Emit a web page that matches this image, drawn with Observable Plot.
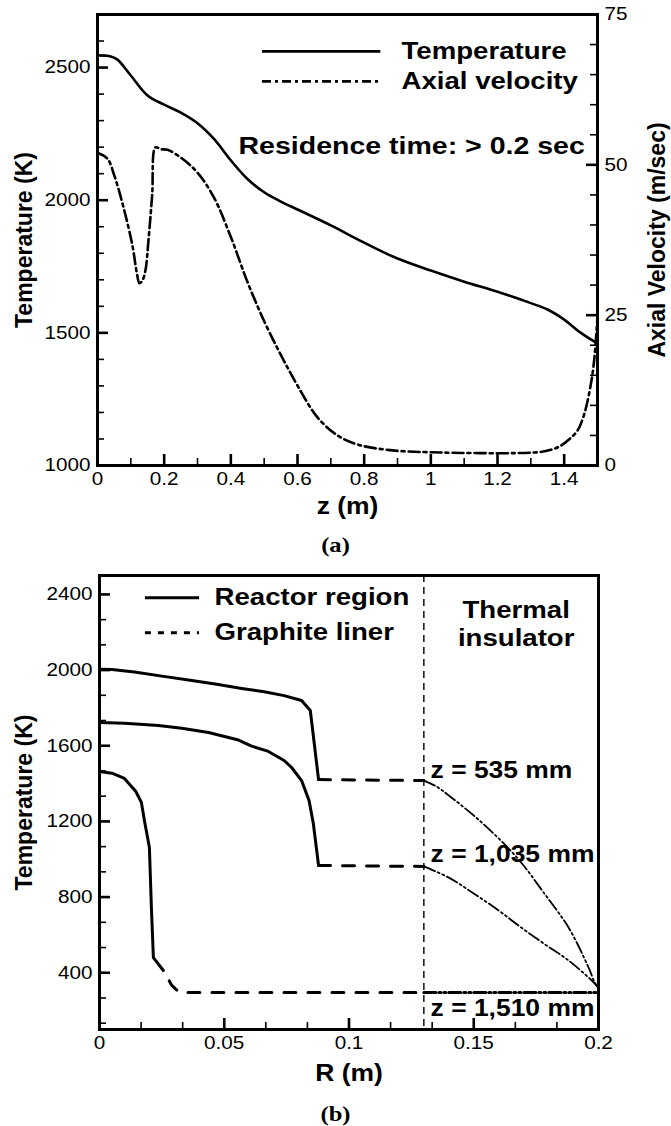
<!DOCTYPE html>
<html><head><meta charset="utf-8">
<script src="https://cdn.jsdelivr.net/npm/d3@7"></script>
<script src="https://cdn.jsdelivr.net/npm/@observablehq/plot@0.6"></script>
<style>
body{margin:0;background:#fff;}
#wrap{position:relative;width:671px;height:1126px;overflow:hidden;background:#fff;}
#wrap svg{position:absolute;left:0;}
.cap{position:absolute;left:0;width:671px;text-align:center;font-family:"Liberation Serif","Times New Roman",serif;font-weight:bold;font-size:21px;line-height:24px;transform:scaleX(1.17);}
</style></head><body><div id="wrap"></div>
<script>
// ---------- panel (a) data ----------
const zTemp = [0, 0.04, 0.06, 0.1, 0.15, 0.2, 0.25, 0.3, 0.35, 0.4, 0.45, 0.5, 0.55, 0.6, 0.7, 0.8, 0.9, 1.0, 1.1, 1.2, 1.3, 1.35, 1.4, 1.45, 1.5];
const tempK = [2546, 2542, 2530, 2470, 2395, 2360, 2330, 2290, 2230, 2150, 2080, 2030, 1995, 1965, 1905, 1840, 1780, 1735, 1693, 1655, 1612, 1588, 1550, 1500, 1460];
const zVel = [0, 0.03, 0.05, 0.08, 0.105, 0.118, 0.126, 0.135, 0.144, 0.153, 0.164, 0.174, 0.19, 0.21, 0.25, 0.3, 0.35, 0.4, 0.45, 0.5, 0.55, 0.6, 0.66, 0.72, 0.78, 0.87, 1.0, 1.32, 1.36, 1.39, 1.42, 1.44, 1.46, 1.48, 1.49, 1.5];
const velMs = [52.0, 51.0, 48.3, 42.5, 36.5, 32.0, 30.3, 30.8, 32.5, 37.5, 45.0, 52.9, 52.6, 52.5, 51.2, 48.7, 44.5, 38.0, 30.5, 24.0, 18.4, 13.3, 8.0, 5.0, 3.5, 2.6, 2.2, 2.2, 2.6, 3.3, 4.6, 5.8, 8.5, 13.5, 17.5, 24.8];
const zTicks = [0, 0.2, 0.4, 0.6, 0.8, 1, 1.2, 1.4];
const zMinor = [0.1, 0.3, 0.5, 0.7, 0.9, 1.1, 1.3, 1.5];
const tTicksA = [1000, 1500, 2000, 2500];
const tMinorA = [1100, 1200, 1300, 1400, 1600, 1700, 1800, 1900, 2100, 2200, 2300, 2400, 2600];
const vTicks = [0, 25, 50, 75];
const vMinor = [5, 10, 15, 20, 30, 35, 40, 45, 55, 60, 65, 70];
const legendA = ["Temperature", "Axial velocity"];
const noteA = ["Residence time: > 0.2 sec"];

// ---------- panel (b) data ----------
const rReac535 = [0, 0.005, 0.014, 0.025, 0.037, 0.047, 0.057, 0.066, 0.074, 0.081, 0.0845, 0.0878];
const tReac535 = [2005, 2003, 1990, 1968, 1945, 1925, 1903, 1885, 1865, 1839, 1786, 1421];
const rLin535 = [0.0878, 0.13];
const tLin535 = [1421, 1416];
const rIns535 = [0.13, 0.135, 0.14, 0.15, 0.16, 0.169, 0.178, 0.188, 0.196, 0.1985, 0.2];
const tIns535 = [1416, 1385, 1337, 1231, 1110, 983, 824, 639, 428, 348, 318];

const rReac1035 = [0, 0.01, 0.0236, 0.033, 0.0437, 0.0557, 0.061, 0.0677, 0.074, 0.077, 0.081, 0.084, 0.0857, 0.0878];
const tReac1035 = [1723, 1719, 1707, 1692, 1670, 1630, 1598, 1570, 1522, 1485, 1416, 1310, 1189, 967];
const rLin1035 = [0.0878, 0.13];
const tLin1035 = [967, 962];
const rIns1035 = [0.13, 0.14, 0.15, 0.16, 0.169, 0.178, 0.188, 0.196, 0.1985, 0.2];
const tIns1035 = [962, 903, 819, 729, 639, 555, 465, 375, 343, 318];

const rReac1510 = [0, 0.005, 0.01, 0.0145, 0.0168, 0.018, 0.02, 0.0208, 0.0216, 0.0256];
const tReac1510 = [1464, 1455, 1427, 1360, 1300, 1205, 1062, 745, 480, 412];
const rLin1510 = [0.0256, 0.029, 0.032, 0.13];
const tLin1510 = [412, 333, 296, 296];
const rIns1510 = [0.13, 0.2];
const tIns1510 = [296, 296];

const linerOuterR = [0.13];
const rTicks = [0, 0.05, 0.1, 0.15, 0.2];
const rMinor = [1, 2, 4, 5, 7, 8, 10, 11].map(k => k * 0.05 / 3);
const tTicksB = [400, 800, 1200, 1600, 2000, 2400];
const tMinorB = [1, 2, 4, 5, 7, 8, 10, 11, 13, 14, 16, 17].map(k => k * 400 / 3);
const legendB = ["Reactor region", "Graphite liner"];
const regionB = ["Thermal\ninsulator"];
const zLabels = ["z = 535 mm", "z = 1,035 mm", "z = 1,510 mm"];

// ---------- helpers ----------
const FONT = "'Liberation Sans', Arial, Helvetica, sans-serif";
const fmt = d => String(+(+d).toFixed(3));
const pts = (xs, ys) => xs.map((x, i) => ({x, y: ys[i]}));
const V2T = v => 1000 + v * 1700 / 75;
const T2V = t => Math.round((t - 1000) * 75 / 1700);
const bold = {fontWeight: "bold", fontSize: 24, fill: "black"};

// tick labels outside the frame, tick marks pointing inward
function inAxes(axis, major, minor, anchor, format, W, H) {
  const tickMark = (vals, len, sw) => {
    if (anchor === "bottom") return Plot.tickX(vals, {x: d => d, insetTop: H - len, stroke: "black", strokeWidth: sw});
    if (anchor === "left") return Plot.tickY(vals, {y: d => d, insetRight: W - len, stroke: "black", strokeWidth: sw});
    return Plot.tickY(vals, {y: d => d, insetLeft: W - len, stroke: "black", strokeWidth: sw});
  };
  return [
    axis({anchor, ticks: major, tickSize: 0, tickPadding: 7, tickFormat: format, label: null, fontSize: 18}),
    tickMark(major, 11, 2.6),
    tickMark(minor, 7, 1.6)
  ];
}

function stretch(svg, s) {
  svg.querySelectorAll("text").forEach(t => {
    const tr = t.getAttribute("transform") || "";
    if (/rotate/.test(tr)) return;
    if (!tr && (t.hasAttribute("x") || t.hasAttribute("y"))) {
      const x = +t.getAttribute("x") || 0, y = +t.getAttribute("y") || 0;
      t.removeAttribute("x"); t.removeAttribute("y");
      t.setAttribute("transform", `translate(${x},${y}) scale(${s},1)`);
    } else {
      t.setAttribute("transform", `${tr} scale(${s},1)`);
    }
  });
}

// ---------- panel (a) ----------
const tempData = pts(zTemp, tempK);
const velData = pts(zVel, velMs).map(d => ({x: d.x, y: V2T(d.y)}));
const WA = 671 - 97 - 74, HA = 520 - 14 - 55;

const chartA = Plot.plot({
  width: 671, height: 520,
  marginLeft: 97, marginRight: 74, marginTop: 14, marginBottom: 55,
  style: {fontFamily: FONT, fontSize: "18px", color: "black", background: "white"},
  x: {domain: [0, 1.5]},
  y: {domain: [1000, 2700]},
  marks: [
    ...inAxes(Plot.axisX, zTicks, zMinor, "bottom", fmt, WA, HA),
    ...inAxes(Plot.axisY, tTicksA, tMinorA, "left", d => String(d), WA, HA),
    ...inAxes(Plot.axisY, vTicks.map(V2T), vMinor.map(V2T), "right", t => String(T2V(t)), WA, HA),
    Plot.line(tempData, {x: "x", y: "y", curve: "catmull-rom", stroke: "black", strokeWidth: 2.6}),
    Plot.line(velData, {x: "x", y: "y", curve: "catmull-rom", stroke: "black", strokeWidth: 2.6, strokeDasharray: "11 4 3 4"}),
    Plot.ruleY([2561], {x1: 0.495, x2: 0.85, stroke: "black", strokeWidth: 2.8}),
    Plot.ruleY([2448], {x1: 0.495, x2: 0.85, stroke: "black", strokeWidth: 2.8, strokeDasharray: "9 4 3 4"}),
    Plot.text(legendA, {x: 0.912, y: (d, i) => [2561, 2448][i], text: d => d, textAnchor: "start", ...bold}),
    Plot.text(noteA, {x: 0.423, y: 2203, text: d => d, textAnchor: "start", ...bold, fontSize: 24.8}),
    Plot.text(["Temperature (K)"], {frameAnchor: "left", dx: -73, rotate: -90, text: d => d, textAnchor: "middle", lineAnchor: "middle", ...bold, fontSize: 23}),
    Plot.text(["Axial Velocity (m/sec)"], {frameAnchor: "right", dx: 60, rotate: -90, text: d => d, textAnchor: "middle", lineAnchor: "middle", ...bold, fontSize: 23}),
    Plot.text(["z (m)"], {frameAnchor: "bottom", dy: 41, text: d => d, textAnchor: "middle", lineAnchor: "middle", ...bold, fontSize: 23}),
    Plot.frame({stroke: "black", strokeWidth: 3})
  ]
});

// ---------- panel (b) ----------
const WB = 671 - 99 - 73, HB = 530 - 15 - 61;
const chartB = Plot.plot({
  width: 671, height: 530,
  marginLeft: 99, marginRight: 73, marginTop: 15, marginBottom: 61,
  style: {fontFamily: FONT, fontSize: "18px", color: "black", background: "white"},
  x: {domain: [0, 0.2]},
  y: {domain: [100, 2500]},
  marks: [
    ...inAxes(Plot.axisX, rTicks, rMinor, "bottom", fmt, WB, HB),
    ...inAxes(Plot.axisY, tTicksB, tMinorB, "left", d => String(d), WB, HB),
    Plot.ruleX(linerOuterR, {stroke: "black", strokeWidth: 1.4, strokeDasharray: "7 5"}),
    Plot.line(pts(rReac535, tReac535), {x: "x", y: "y", stroke: "black", strokeWidth: 3}),
    Plot.line(pts(rReac1035, tReac1035), {x: "x", y: "y", stroke: "black", strokeWidth: 3}),
    Plot.line(pts(rReac1510, tReac1510), {x: "x", y: "y", stroke: "black", strokeWidth: 3}),
    Plot.line(pts(rLin535, tLin535), {x: "x", y: "y", stroke: "black", strokeWidth: 3, strokeDasharray: "12 12"}),
    Plot.line(pts(rLin1035, tLin1035), {x: "x", y: "y", stroke: "black", strokeWidth: 3, strokeDasharray: "12 12"}),
    Plot.line(pts(rLin1510, tLin1510), {x: "x", y: "y", stroke: "black", strokeWidth: 3, strokeDasharray: "12 12", strokeDashoffset: 12}),
    Plot.line(pts(rIns535, tIns535), {x: "x", y: "y", curve: "catmull-rom", stroke: "black", strokeWidth: 1.8, strokeDasharray: "12 3 2 3 2 3"}),
    Plot.line(pts(rIns1035, tIns1035), {x: "x", y: "y", curve: "catmull-rom", stroke: "black", strokeWidth: 1.8, strokeDasharray: "12 3 2 3 2 3"}),
    Plot.line(pts(rIns1510, tIns1510), {x: "x", y: "y", stroke: "black", strokeWidth: 3, strokeDasharray: "12 3 2 3 2 3"}),
    Plot.ruleY([2383], {x1: 0.0184, x2: 0.0401, stroke: "black", strokeWidth: 3}),
    Plot.ruleY([2198], {x1: 0.0184, x2: 0.0401, stroke: "black", strokeWidth: 3, strokeDasharray: "6 7"}),
    Plot.text(legendB, {x: 0.0461, y: (d, i) => [2383, 2198][i], text: d => d, textAnchor: "start", ...bold}),
    Plot.text(regionB, {x: 0.167, y: 2250, text: d => d, textAnchor: "middle", lineHeight: 1.2, ...bold}),
    Plot.text(zLabels, {x: 0.1327, y: (d, i) => [1469, 1025, 211][i], text: d => d, textAnchor: "start", ...bold, fontSize: 23}),
    Plot.text(["Temperature (K)"], {frameAnchor: "left", dx: -75, rotate: -90, text: d => d, textAnchor: "middle", lineAnchor: "middle", ...bold, fontSize: 23}),
    Plot.text(["R (m)"], {frameAnchor: "bottom", dy: 44, text: d => d, textAnchor: "middle", lineAnchor: "middle", ...bold, fontSize: 23}),
    Plot.frame({stroke: "black", strokeWidth: 3})
  ]
});

stretch(chartA, 1.15);
stretch(chartB, 1.15);

const wrap = document.getElementById("wrap");
chartA.style.top = "0px";
chartB.style.top = "560px";
wrap.appendChild(chartA);
const capA = document.createElement("div");
capA.className = "cap"; capA.style.top = "533px"; capA.textContent = "(a)";
wrap.appendChild(capA);
wrap.appendChild(chartB);
const capB = document.createElement("div");
capB.className = "cap"; capB.style.top = "1102px"; capB.textContent = "(b)";
wrap.appendChild(capB);
</script>
</body></html>
